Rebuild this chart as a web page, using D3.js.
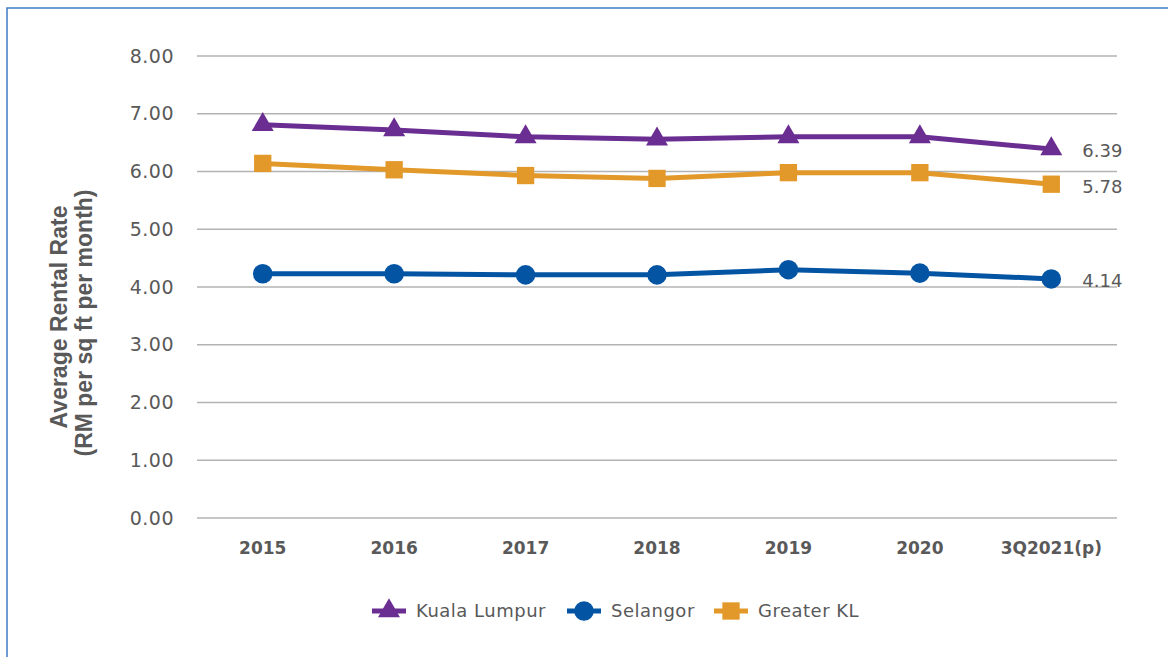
<!DOCTYPE html>
<html>
<head>
<meta charset="utf-8">
<script src="https://cdn.jsdelivr.net/npm/d3@7"></script>
<style>
  body { margin: 0; background: #fff; }
  text { font-family: "DejaVu Sans", sans-serif; fill: #595959; }
</style>
</head>
<body>
<div id="chart"></div>
<script>
// Chart data
var years = ["2015", "2016", "2017", "2018", "2019", "2020", "3Q2021(p)"];
var kualaLumpur = [6.81, 6.72, 6.60, 6.56, 6.60, 6.60, 6.39];
var selangor = [4.23, 4.23, 4.21, 4.21, 4.30, 4.24, 4.14];
var greaterKL = [6.14, 6.03, 5.93, 5.88, 5.98, 5.98, 5.78];
var yTicks = [0, 1, 2, 3, 4, 5, 6, 7, 8];

var series = [
  { name: "Kuala Lumpur", values: kualaLumpur, color: "#6a2d91", shape: d3.symbolTriangle },
  { name: "Selangor", values: selangor, color: "#0454a4", shape: d3.symbolCircle },
  { name: "Greater KL", values: greaterKL, color: "#e2992a", shape: d3.symbolSquare }
];

var svgWidth = 1168;
var svgHeight = 657;

var margin = { top: 56, bottom: 139, left: 197, right: 51 };
var width = svgWidth - margin.left - margin.right;
var height = svgHeight - margin.top - margin.bottom;

var svg = d3.select("#chart")
  .append("svg")
  .attr("width", svgWidth)
  .attr("height", svgHeight);

// frame
svg.append("rect")
  .attr("x", 7)
  .attr("y", 8)
  .attr("width", 1180)
  .attr("height", 700)
  .attr("fill", "none")
  .attr("stroke", "#3d7cc2")
  .attr("stroke-width", 1.5);

var chartGroup = svg.append("g")
  .attr("transform", `translate(${margin.left}, ${margin.top})`);

var xScale = d3.scaleBand()
  .domain(years)
  .range([0, width]);

var yScale = d3.scaleLinear()
  .domain([0, 8])
  .range([height, 0]);

// gridlines
chartGroup.selectAll(".grid")
  .data(yTicks)
  .enter()
  .append("line")
  .attr("x1", 0)
  .attr("x2", width)
  .attr("y1", d => yScale(d))
  .attr("y2", d => yScale(d))
  .attr("stroke", "#b3b3b3")
  .attr("stroke-width", 1.5);

// y tick labels
chartGroup.selectAll(".ylab")
  .data(yTicks)
  .enter()
  .append("text")
  .attr("x", -23)
  .attr("y", d => yScale(d))
  .attr("dy", "0.35em")
  .attr("text-anchor", "end")
  .style("font-size", "19px")
  .style("letter-spacing", "0.5px")
  .text(d => d.toFixed(2));

// x labels
chartGroup.selectAll(".xlab")
  .data(years)
  .enter()
  .append("text")
  .attr("x", d => xScale(d) + xScale.bandwidth() / 2)
  .attr("y", height + 36)
  .attr("text-anchor", "middle")
  .style("font-size", "17px")
  .style("font-weight", "bold")
  .text(d => d);

var line = d3.line()
  .x((d, i) => xScale(years[i]) + xScale.bandwidth() / 2)
  .y(d => yScale(d));

series.forEach(function(s) {
  chartGroup.append("path")
    .datum(s.values)
    .attr("d", line)
    .attr("fill", "none")
    .attr("stroke", s.color)
    .attr("stroke-width", 5);

  chartGroup.selectAll(null)
    .data(s.values)
    .enter()
    .append("path")
    .attr("transform", (d, i) => `translate(${xScale(years[i]) + xScale.bandwidth() / 2}, ${yScale(d)})`)
    .attr("d", d3.symbol().type(s.shape).size(s.shape === d3.symbolTriangle ? 210 : 300))
    .attr("fill", s.color);

  // end label
  var last = s.values[s.values.length - 1];
  chartGroup.append("text")
    .attr("x", xScale(years[years.length - 1]) + xScale.bandwidth() / 2 + 31)
    .attr("y", yScale(last) + 2)
    .attr("dy", "0.35em")
    .style("font-size", "18px")
    .text(last.toFixed(2));
});

// axis title
svg.append("text")
  .attr("transform", "rotate(-90)")
  .attr("x", -317)
  .attr("y", 67)
  .attr("text-anchor", "middle")
  .style("font-family", "'Liberation Sans', Arial, sans-serif")
  .style("font-size", "23px")
  .style("font-weight", "bold")
  .text("Average Rental Rate");

svg.append("text")
  .attr("transform", "rotate(-90)")
  .attr("x", -323)
  .attr("y", 92)
  .attr("text-anchor", "middle")
  .style("font-family", "'Liberation Sans', Arial, sans-serif")
  .style("font-size", "23px")
  .style("font-weight", "bold")
  .text("(RM per sq ft per month)");

// legend
var legendX = [372, 567, 714];
var legend = svg.selectAll(".legend")
  .data(series)
  .enter()
  .append("g")
  .attr("transform", (d, i) => `translate(${legendX[i]}, 611)`);

legend.append("line")
  .attr("x1", 0)
  .attr("x2", 34)
  .attr("stroke", d => d.color)
  .attr("stroke-width", 5);

legend.append("path")
  .attr("transform", "translate(17, 0)")
  .attr("d", d => d3.symbol().type(d.shape).size(d.shape === d3.symbolTriangle ? 210 : 300)())
  .attr("fill", d => d.color);

legend.append("text")
  .attr("x", 44)
  .attr("dy", "0.35em")
  .style("font-size", "18px")
  .style("letter-spacing", "0.5px")
  .text(d => d.name);
</script>
</body>
</html>
